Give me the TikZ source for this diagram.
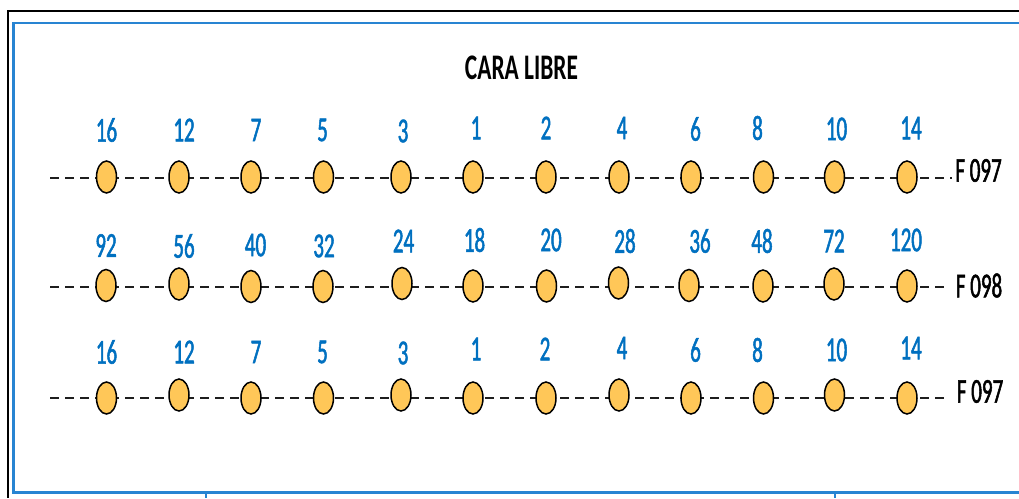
\documentclass[tikz,border=0pt]{standalone}
\usepackage{fontspec}
\newfontfamily\labfont[FakeStretch=0.6]{Carlito}
\newfontfamily\titfont[FakeStretch=0.65]{Carlito}
\definecolor{numblue}{RGB}{0,112,192}
\definecolor{frameblue}{RGB}{40,132,210}
\definecolor{pinfill}{RGB}{255,199,88}
\definecolor{linegray}{RGB}{30,30,30}
\tikzset{
  pin/.style={ellipse, draw=black, line width=1.5pt, fill=pinfill,
    minimum width=20pt, minimum height=32pt, inner sep=0pt},
  num/.style={inner sep=0pt, text=numblue, font=\labfont\fontsize{35}{35}\selectfont},
  rowlabel/.style={inner sep=0pt, text=black, font=\labfont\fontsize{35}{35}\selectfont},
  titlelabel/.style={inner sep=0pt, text=black, font=\titfont\bfseries\fontsize{36}{36}\selectfont},
  dashline/.style={draw=linegray, line width=2.6pt, dash pattern=on 9pt off 6pt},
}
\usetikzlibrary{shapes.geometric}
% slightly heavier strokes for the thin condensed numerals
\newcommand{\heavy}[1]{\special{pdf:literal 2 Tr 0.5 w}#1\special{pdf:literal 0 Tr}}
\begin{document}
\begin{tikzpicture}[x=1pt, y=-1pt]
\useasboundingbox (0,0) rectangle (1019,498);
\fill[white] (0,0) rectangle (1019,498);

% outer black frame and inner blue frame (open to the right)
\draw[black, line width=2.6pt] (1019,11) -- (8,11) -- (8,498);
\draw[frameblue, line width=2.6pt] (1019,23) -- (13.5,23) -- (13.5,492.5) -- (1019,492.5);
\draw[frameblue, line width=2pt] (205.5,492.5) -- (205.5,498);
\draw[frameblue, line width=2pt] (835.3,492.5) -- (835.3,498);

% title
\node[titlelabel] (title) at (521.5,67.5) {CARA LIBRE};

% dashed row lines
\coordinate (r1s) at (50,178);  \coordinate (r1e) at (952,178);
\coordinate (r2s) at (50,287);  \coordinate (r2e) at (945,287);
\coordinate (r3s) at (50,398);  \coordinate (r3e) at (945,398);
\draw[dashline] (r1s) -- (r1e);
\draw[dashline] (r2s) -- (r2e);
\draw[dashline] (r3s) -- (r3e);

% row 1 pins and numbers
\foreach \i/\x/\y/\t/\lx/\ly in {
  1/106.5/177/16/106.5/130, 2/179/177/12/184/130, 3/251/177/7/256/130,
  4/323.5/177/5/322.5/130, 5/401/177/3/403/131, 6/473/177/1/476/128,
  7/546/177/2/546/128, 8/619/177/4/622/128, 9/691/177/6/695.5/129,
  10/763.5/177/8/757.5/128, 11/834.5/177/10/836.5/129, 12/907/177/14/911/128}{
  \node[pin] (a\i) at (\x,\y) {};
  \node[num] (na\i) at (\lx,\ly) {\heavy{\t}};
}

% row 2 pins and numbers
\foreach \i/\x/\y/\t/\lx/\ly in {
  1/106/285.5/92/106/245.5, 2/179/284/56/184/246, 3/251/286.5/40/255.5/245,
  4/323/286.5/32/324/246, 5/402/283.5/24/403.5/241, 6/473/286/18/474.5/240,
  7/546.5/286/20/551/240, 8/618.5/283/28/625/241, 9/689/285.5/36/700/241,
  10/763/286/48/762/241, 11/834/284/72/834/241, 12/907/286/120/906/240}{
  \node[pin] (b\i) at (\x,\y) {};
  \node[num] (nb\i) at (\lx,\ly) {\heavy{\t}};
}

% row 3 pins and numbers
\foreach \i/\x/\y/\t/\lx/\ly in {
  1/106.5/398/16/106.5/352, 2/179/395/12/184/352, 3/251/398/7/256/352,
  4/323.5/398/5/322.5/352, 5/401/395/3/403/353, 6/473/398/1/476/349,
  7/546/398/2/545/349, 8/619/395/4/622/348, 9/691/398/6/695.5/350,
  10/763.5/398/8/757.5/350, 11/834.5/395/10/836.5/350, 12/907/398/14/911/348}{
  \node[pin] (c\i) at (\x,\y) {};
  \node[num] (nc\i) at (\lx,\ly) {\heavy{\t}};
}

% row names
\node[rowlabel] (f1) at (978.5,170.5) {\heavy{F 097}};
\node[rowlabel] (f2) at (979,285.5) {\heavy{F 098}};
\node[rowlabel] (f3) at (980,391.5) {\heavy{F 097}};
\end{tikzpicture}
\end{document}
